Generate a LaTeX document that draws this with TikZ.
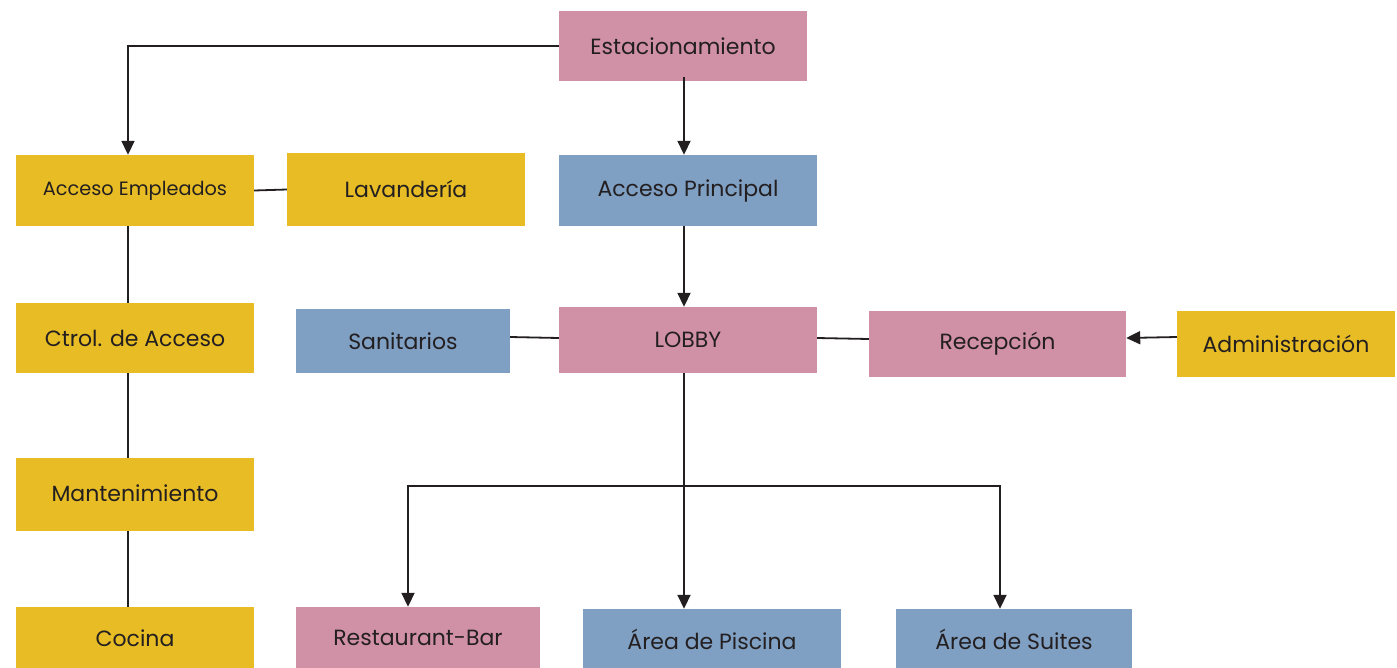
\documentclass[tikz,border=0pt]{standalone}
\usepackage{fontspec}
\setmainfont{Poppins}
\usetikzlibrary{arrows.meta}
\definecolor{cpink}{HTML}{D090A5}
\definecolor{cyel}{HTML}{E7BC25}
\definecolor{cblue}{HTML}{7F9FC3}
\definecolor{ctext}{HTML}{231F20}
\tikzset{
  box/.style={draw=none, inner sep=0pt, text=ctext, font=\fontsize{22}{26}\selectfont, anchor=center},
  pinkbox/.style={box, fill=cpink},
  yelbox/.style={box, fill=cyel},
  bluebox/.style={box, fill=cblue},
  conn/.style={draw=ctext, line width=1.8pt},
  arr/.style={conn, -{Triangle[length=14pt,width=13pt]}},
}
\begin{document}
\begin{tikzpicture}[x=1pt,y=-1pt]
\useasboundingbox (0,0) rectangle (1397,667);
\node[pinkbox, minimum width=248pt, minimum height=70pt] (est) at (683,46) {Estacionamiento};
\node[yelbox, minimum width=238pt, minimum height=71pt, font=\fontsize{19.3}{23}\selectfont] (ae) at (135,190.5) {\raisebox{3pt}{Acceso Empleados}};
\node[yelbox, minimum width=238pt, minimum height=73pt] (lav) at (406,189.5) {\raisebox{2pt}{Lavandería}};
\node[bluebox, minimum width=258pt, minimum height=71pt] (ap) at (688,190.5) {Acceso Principal};
\node[yelbox, minimum width=238pt, minimum height=70pt] (ctrl) at (135,338) {Ctrol. de Acceso};
\node[bluebox, minimum width=214pt, minimum height=64pt] (san) at (403,341) {Sanitarios};
\node[pinkbox, minimum width=258pt, minimum height=66pt] (lobby) at (688,340) {\raisebox{1pt}{LOBBY}};
\node[pinkbox, minimum width=257pt, minimum height=66pt] (rec) at (997.5,344) {Recepción};
\node[yelbox, minimum width=218pt, minimum height=66pt] (adm) at (1286,344) {Administración};
\node[yelbox, minimum width=238pt, minimum height=73pt] (mant) at (135,494.5) {\raisebox{3pt}{Mantenimiento}};
\node[yelbox, minimum width=238pt, minimum height=62pt] (coc) at (135,638) {Cocina};
\node[pinkbox, minimum width=244pt, minimum height=62pt] (rb) at (418,638) {Restaurant-Bar};
\node[bluebox, minimum width=258pt, minimum height=60pt] (pisc) at (712,639) {Área de Piscina};
\node[bluebox, minimum width=236pt, minimum height=60pt] (sui) at (1014,639) {Área de Suites};
% connectors
\draw[arr] (est.west) -| ([xshift=-7pt]ae.north);
\draw[arr] ([xshift=1pt,yshift=4pt]est.south) -- ([xshift=-4pt]ap.north);
\draw[conn] (ae.east) -- (lav.west);
\draw[conn] ([xshift=-7pt]ae.south) -- ([xshift=-7pt]ctrl.north);
\draw[conn] ([xshift=-7pt]ctrl.south) -- ([xshift=-7pt]mant.north);
\draw[conn] ([xshift=-7pt]mant.south) -- ([xshift=-7pt]coc.north);
\draw[arr] ([xshift=-4pt]ap.south) -- ([xshift=-4pt]lobby.north);
\draw[conn] ([yshift=4pt]san.east) -- ([yshift=2pt]lobby.west);
\draw[conn] ([yshift=2pt]lobby.east) -- ([yshift=5pt]rec.west);
\draw[arr] ([yshift=7pt]adm.west) -- ([yshift=6pt]rec.east);
\coordinate (br) at (684,486);
\draw[arr] ([xshift=-4pt]lobby.south) -- (pisc.north -| br);
\draw[arr] (br) -| ([xshift=-10pt]rb.north);
\draw[arr] (br) -| ([xshift=-14pt]sui.north);
\end{tikzpicture}
\end{document}
